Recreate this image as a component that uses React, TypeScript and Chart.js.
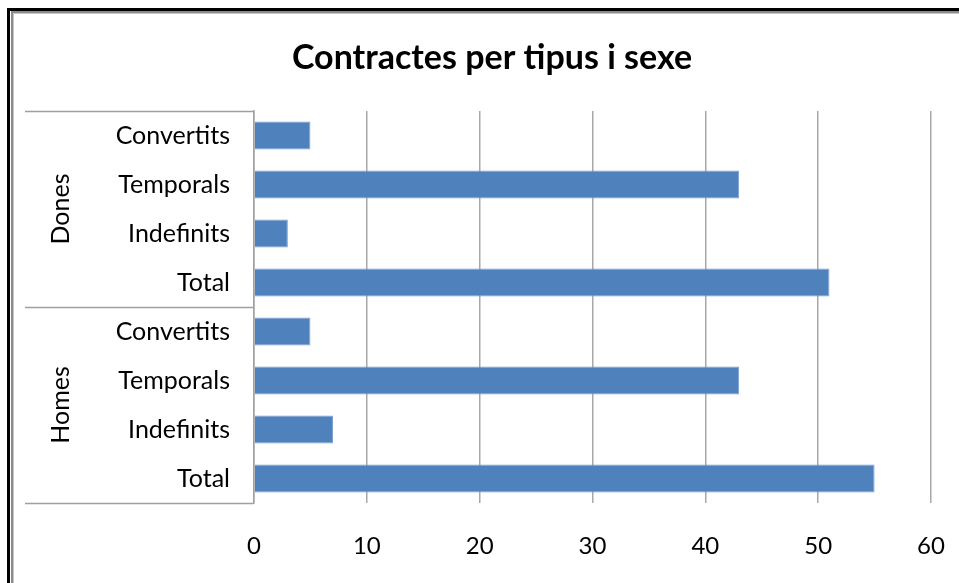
import React, { useEffect, useRef } from "react";
import { Chart, registerables } from "chart.js";

Chart.register(...registerables);

const chartTitle = "Contractes per tipus i sexe";
const groups = ["Dones", "Homes"];
const categories = [
  "Convertits", "Temporals", "Indefinits", "Total",
  "Convertits", "Temporals", "Indefinits", "Total",
];
const values = [5, 43, 3, 51, 5, 43, 7, 55];
const xMin = 0;
const xMax = 60;
const xStep = 10;

const FONT = "Lato";

const framePlugin = {
  id: "frame",
  beforeDraw(chart: any) {
    const { ctx, width, height } = chart;
    ctx.save();
    ctx.fillStyle = "#ffffff";
    ctx.fillRect(0, 0, width, height);
    ctx.fillStyle = "#000000";
    ctx.fillRect(7, 8, width, 3);
    ctx.fillRect(7, 8, 3, height);
    ctx.fillStyle = "#8a8a8a";
    ctx.fillRect(11, 11, width, 2);
    ctx.fillRect(11, 11, 2, height);
    ctx.fillStyle = "#c8c8c8";
    ctx.fillRect(13, 13, width, 1);
    ctx.fillRect(13, 13, 1, height);
    ctx.restore();
  },
  afterDraw(chart: any) {
    const { ctx } = chart;
    const y = chart.scales.y;
    ctx.save();
    ctx.fillStyle = "#000";
    ctx.font = `bold 34px ${FONT}`;
    ctx.textAlign = "center";
    ctx.textBaseline = "middle";
    ctx.fillText(chartTitle, 492, 58);
    const left = 25;
    const right = y.right;
    const perGroup = categories.length / groups.length;
    const lines: number[] = [y.top];
    for (let g = 1; g < groups.length; g++) {
      const a = y.getPixelForValue(g * perGroup - 1);
      const b = y.getPixelForValue(g * perGroup);
      lines.push((a + b) / 2);
    }
    lines.push(y.bottom);
    ctx.strokeStyle = "#a0a0a0";
    ctx.lineWidth = 1.5;
    lines.forEach((ly) => {
      ctx.beginPath();
      ctx.moveTo(left, Math.round(ly) + 0.5);
      ctx.lineTo(right, Math.round(ly) + 0.5);
      ctx.stroke();
    });
    ctx.font = `25px ${FONT}`;
    ctx.fillStyle = "#000";
    groups.forEach((g, i) => {
      const a = y.getPixelForValue(i * perGroup);
      const b = y.getPixelForValue((i + 1) * perGroup - 1);
      const cy = (a + b) / 2;
      ctx.save();
      ctx.translate(61, cy);
      ctx.rotate(-Math.PI / 2);
      ctx.textAlign = "center";
      ctx.textBaseline = "middle";
      ctx.fillText(g, 0, 0);
      ctx.restore();
    });
    ctx.restore();
  },
};

export default function App() {
  const ref = useRef<HTMLCanvasElement>(null);
  useEffect(() => {
    document.body.style.margin = "0";
    const chart = new Chart(ref.current!, {
      type: "bar",
      data: {
        labels: categories,
        datasets: [
          {
            data: values,
            backgroundColor: "#4f81bd",
            borderColor: "#7a9fd0",
            borderWidth: 1,
            barPercentage: 0.57,
            categoryPercentage: 1,
          },
        ],
      },
      options: {
        indexAxis: "y",
        responsive: false,
        animation: false,
        layout: { padding: { top: 111, right: 28, left: 0, bottom: 0 } },
        plugins: {
          legend: { display: false },
          title: { display: false },
          tooltip: { enabled: false },
        },
        scales: {
          x: {
            min: xMin,
            max: xMax,
            ticks: {
              stepSize: xStep,
              color: "#000",
              font: { family: FONT, size: 24 },
              padding: 0,
            },
            grid: {
              color: "#a8a8a8",
              lineWidth: 1.5,
              drawTicks: true,
              tickLength: 29,
              tickColor: "rgba(0,0,0,0)",
            },
            border: { display: false },
            afterFit: (s: any) => {
              s.height = 80;
            },
          },
          y: {
            ticks: {
              color: "#000",
              font: { family: FONT, size: 25 },
              padding: 24,
            },
            grid: { display: false, drawTicks: false },
            border: { display: true, color: "#a0a0a0", width: 1.5 },
            afterFit: (s: any) => {
              s.width = 254;
            },
          },
        },
      },
      plugins: [framePlugin],
    });
    return () => chart.destroy();
  }, []);
  return <canvas ref={ref} width={959} height={583} style={{ display: "block" }} />;
}
